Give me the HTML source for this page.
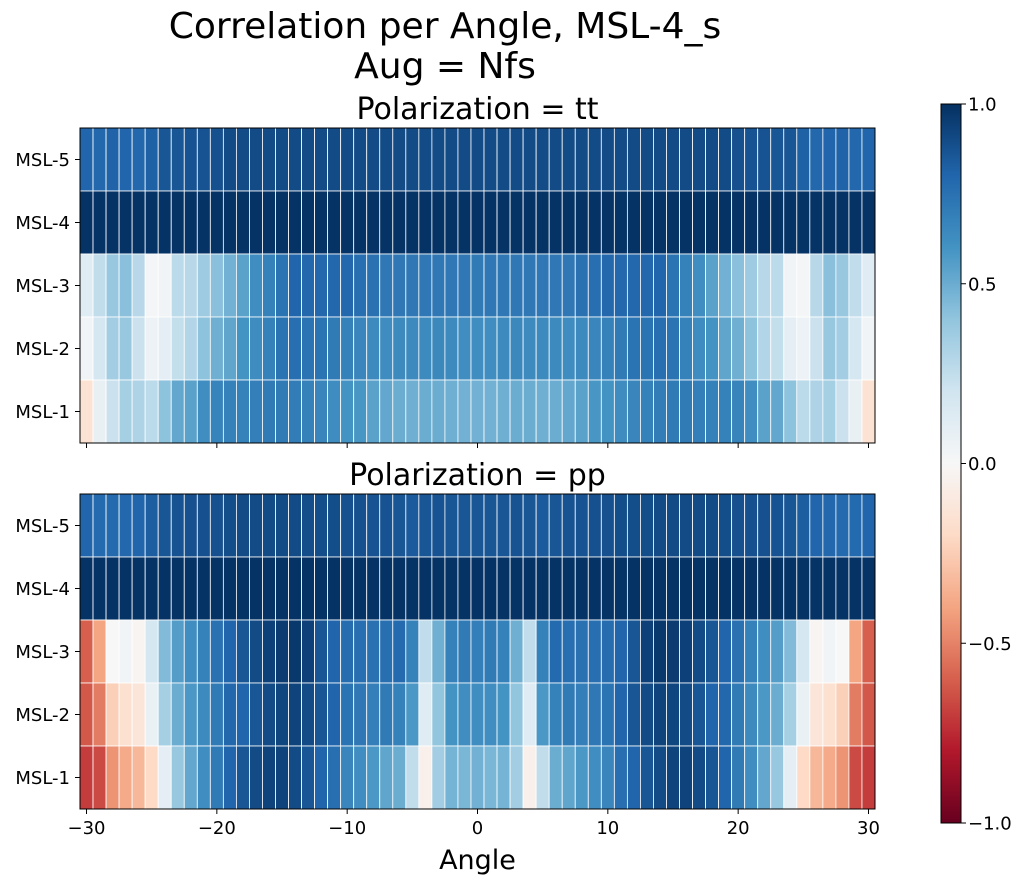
<!DOCTYPE html>
<html><head><meta charset="utf-8"><style>
body{margin:0;background:#fff;}
svg{display:block;font-family:"DejaVu Sans","Liberation Sans",sans-serif;}
</style></head><body>
<svg id="chart" width="1024" height="887" xmlns="http://www.w3.org/2000/svg">
<defs><linearGradient id="cbgrad" x1="0" y1="1" x2="0" y2="0">
<stop offset="0" stop-color="#67001f"/><stop offset="0.1" stop-color="#b2182b"/><stop offset="0.2" stop-color="#d6604d"/><stop offset="0.3" stop-color="#f4a582"/><stop offset="0.4" stop-color="#fddbc7"/><stop offset="0.5" stop-color="#f7f7f7"/><stop offset="0.6" stop-color="#d1e5f0"/><stop offset="0.7" stop-color="#92c5de"/><stop offset="0.8" stop-color="#4393c3"/><stop offset="0.9" stop-color="#2166ac"/><stop offset="1" stop-color="#053061"/>
</linearGradient></defs>
<text x="445" y="38" font-size="36" text-anchor="middle">Correlation per Angle, MSL-4_s</text>
<text x="445" y="78" font-size="36" text-anchor="middle">Aug = Nfs</text>
<g id="panels"></g>
<rect x="941" y="104" width="20" height="719" fill="url(#cbgrad)" stroke="#000" stroke-width="1"/>
<g id="cbticks"></g>
</svg>
<script>
const rowLabels = ["MSL-5","MSL-4","MSL-3","MSL-2","MSL-1"];
const xTicks = [-30,-20,-10,0,10,20,30];
const cbTicks = [1.0,0.5,0.0,-0.5,-1.0];
const cbTickLabels = ["1.0","0.5","0.0","\u22120.5","\u22121.0"];
const panelTitles = ["Polarization = tt","Polarization = pp"];

const ttMSL5 = [.8,.79,.81,.8,.79,.82,.86,.86,.87,.87,.88,.9,.9,.9,.9,.9,.9,.9,.9,.9,.9,.9,.9,.9,.9,.9,.9,.9,.9,.9,.9,.9,.9,.9,.9,.9,.9,.9,.9,.9,.9,.9,.9,.9,.9,.9,.9,.9,.9,.9,.88,.87,.87,.86,.86,.82,.79,.8,.81,.79,.8];
const ttMSL4 = [.99,.99,.99,.99,.99,.99,.99,.99,.99,.99,.99,.99,.99,.99,.99,.99,.99,.99,.99,.99,.99,.99,.99,.99,.99,.99,.99,.99,.99,.99,.99,.99,.99,.99,.99,.99,.99,.99,.99,.99,.99,.99,.99,.99,.99,.99,.99,.99,.99,.99,.99,.99,.99,.99,.99,.99,.99,.99,.99,.99,.99];
const ttMSL3 = [.12,.25,.38,.42,.28,.02,.03,.27,.28,.36,.42,.48,.54,.62,.68,.74,.8,.79,.79,.79,.79,.76,.75,.72,.72,.72,.72,.72,.72,.72,.71,.72,.72,.72,.72,.72,.72,.72,.75,.76,.79,.79,.79,.79,.8,.74,.68,.62,.54,.48,.42,.36,.28,.27,.03,.02,.28,.42,.38,.25,.12];
const ttMSL2 = [.03,.18,.35,.38,.22,.06,.1,.24,.3,.41,.49,.53,.6,.63,.68,.74,.76,.74,.74,.71,.68,.66,.64,.63,.64,.64,.64,.65,.64,.62,.62,.62,.64,.65,.64,.64,.64,.63,.64,.66,.68,.71,.74,.74,.76,.74,.68,.63,.6,.53,.49,.41,.3,.24,.1,.06,.22,.38,.35,.18,.03];
const ttMSL1 = [-.15,.08,.22,.34,.31,.27,.41,.52,.54,.62,.67,.68,.68,.69,.71,.71,.7,.68,.66,.63,.6,.59,.54,.52,.5,.49,.5,.5,.49,.48,.48,.48,.49,.5,.5,.49,.5,.52,.54,.59,.6,.63,.66,.68,.7,.71,.71,.69,.68,.68,.67,.62,.54,.52,.41,.27,.31,.34,.22,.08,-.15];

const ppMSL5 = [.8,.78,.78,.79,.8,.83,.86,.87,.88,.88,.88,.89,.9,.9,.9,.9,.9,.89,.89,.89,.88,.88,.87,.87,.86,.84,.86,.87,.86,.86,.86,.86,.86,.87,.86,.84,.86,.87,.87,.88,.88,.89,.89,.89,.9,.9,.9,.9,.9,.89,.88,.88,.88,.87,.86,.83,.8,.79,.78,.78,.8];
const ppMSL4 = [.99,.99,.99,.99,.99,.99,.99,.99,.99,.99,.99,.99,.99,.99,.99,.99,.99,.99,.99,.99,.99,.99,.99,.99,.99,.99,.99,.99,.99,.99,.99,.99,.99,.99,.99,.99,.99,.99,.99,.99,.99,.99,.99,.99,.99,.99,.99,.99,.99,.99,.99,.99,.99,.99,.99,.99,.99,.99,.99,.99,.99];
const ppMSL3 = [-.6,-.4,0,.03,-.02,.18,.44,.56,.62,.68,.75,.8,.86,.9,.94,.96,.97,.94,.86,.8,.77,.76,.75,.76,.78,.68,.25,.49,.68,.71,.69,.71,.68,.49,.25,.68,.78,.76,.75,.76,.77,.8,.86,.94,.97,.96,.94,.9,.86,.8,.75,.68,.62,.56,.44,.18,-.02,.03,0,-.4,-.6];
const ppMSL2 = [-.62,-.52,-.24,-.16,-.13,.07,.34,.5,.58,.64,.71,.79,.8,.86,.9,.92,.93,.9,.86,.8,.74,.72,.69,.71,.68,.58,.12,.4,.6,.62,.62,.62,.6,.4,.12,.58,.68,.71,.69,.72,.74,.8,.86,.9,.93,.92,.9,.86,.8,.79,.71,.64,.58,.5,.34,.07,-.13,-.16,-.24,-.52,-.62];
const ppMSL1 = [-.7,-.66,-.45,-.38,-.33,-.2,.1,.38,.52,.62,.71,.8,.86,.9,.93,.93,.9,.86,.8,.76,.66,.62,.58,.53,.5,.25,-.05,.35,.47,.46,.48,.46,.47,.35,-.05,.25,.5,.53,.58,.62,.66,.76,.8,.86,.9,.93,.93,.9,.86,.8,.71,.62,.52,.38,.1,-.2,-.33,-.38,-.45,-.66,-.7];

const panelData = [[ttMSL5,ttMSL4,ttMSL3,ttMSL2,ttMSL1],[ppMSL5,ppMSL4,ppMSL3,ppMSL2,ppMSL1]];

const NS="http://www.w3.org/2000/svg";
const stops=["#67001f","#b2182b","#d6604d","#f4a582","#fddbc7","#f7f7f7","#d1e5f0","#92c5de","#4393c3","#2166ac","#053061"];
function hex(h){return [1,3,5].map(i=>parseInt(h.substr(i,2),16));}
function cmap(v){
  let t=(Math.max(-1,Math.min(1,v))+1)/2*10;
  let i=Math.min(9,Math.floor(t)),f=t-i;
  let a=hex(stops[i]),b=hex(stops[i+1]);
  return "rgb("+a.map((c,k)=>Math.round(c+(b[k]-c)*f)).join(",")+")";
}
const X0=80,X1=875,AMIN=-30.5,AMAX=30.5;
function xScale(a){return X0+(a-AMIN)/(AMAX-AMIN)*(X1-X0);}
const panelTops=[128,494],PH=315;
function yScale(p,r){return panelTops[p]+r*PH/rowLabels.length;}
function mk(tag,attrs,parent){const e=document.createElementNS(NS,tag);for(const k in attrs)e.setAttribute(k,attrs[k]);parent.appendChild(e);return e;}
const root=document.getElementById("panels");
panelData.forEach((rows,p)=>{
  const g=mk("g",{},root);
  
  
  const t=mk("text",{x:(X0+X1)/2,y:panelTops[p]-9,"font-size":"30","text-anchor":"middle"},g);
  t.textContent=panelTitles[p];
  
  
  const rh=PH/rowLabels.length;
  rows.forEach((vals,r)=>{
    vals.forEach((v,i)=>{
      const a=AMIN+0.5+i;
      const x=xScale(a-0.5),w=xScale(a+0.5)-x;
      const c=mk("rect",{x:x,y:yScale(p,r),width:w,height:rh,fill:cmap(v),stroke:"#fff","stroke-width":"0.8"},g);
      
      
    });
    const yl=mk("text",{x:70,y:yScale(p,r)+rh/2+6.5,"font-size":"18","text-anchor":"end"},g);
    yl.textContent=rowLabels[r];
    
    
    const tk=mk("line",{x1:75,x2:80,y1:yScale(p,r)+rh/2,y2:yScale(p,r)+rh/2,stroke:"#000"},g);
    
    
  });
  const fr=mk("rect",{x:X0,y:panelTops[p],width:X1-X0,height:PH,fill:"none",stroke:"#000","stroke-width":"1"},g);
  
  
  xTicks.forEach(v=>{
    const yb=panelTops[p]+PH;
    const l=mk("line",{x1:xScale(v),x2:xScale(v),y1:yb,y2:yb+5,stroke:"#000"},g);
    
    
    if(p===1){
      const tl=mk("text",{x:xScale(v),y:yb+25,"font-size":"18","text-anchor":"middle"},g);
      tl.textContent=v<0?"\u2212"+Math.abs(v):String(v);
      
      
    }
  });
});
const ax=mk("text",{x:(X0+X1)/2,y:869,"font-size":"27","text-anchor":"middle"},root);
ax.textContent="Angle";


const cbg=document.getElementById("cbticks");
cbTicks.forEach((v,i)=>{
  const y=104+(1-v)/2*719;
  const l=mk("line",{x1:961,x2:966,y1:y,y2:y,stroke:"#000"},cbg);
  
  
  const t=mk("text",{x:968,y:y+6.5,"font-size":"18"},cbg);
  t.textContent=cbTickLabels[i];
  
  
});
</script>
</body></html>
